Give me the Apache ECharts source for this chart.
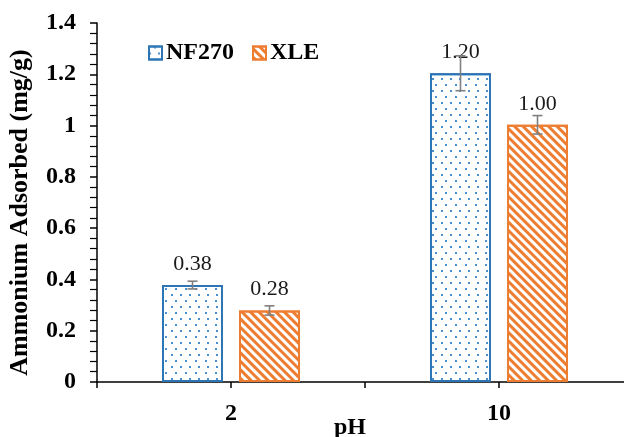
<!DOCTYPE html>
<html>
<head>
<meta charset="utf-8">
<script src="https://cdn.jsdelivr.net/npm/echarts@6/dist/echarts.min.js"></script>
<style>
html,body{margin:0;padding:0;background:#fff;}
#chart{width:624px;height:437px;}
</style>
</head>
<body>
<div id="chart"></div>
<script>
var categories = ['2', '10'];
var seriesNames = ['NF270', 'XLE'];
var nf270 = [0.378, 1.204];
var xle = [0.279, 1.003];
var nf270Err = [0.015, 0.068];
var xleErr = [0.018, 0.036];
var yTicks = {min: 0, max: 1.4, interval: 0.2};

var BLUE = '#2e75b6';
var ORANGE = '#ed7d31';
var SERIF = '"Liberation Serif", "Times New Roman", serif';
var BAR_W = 61;
var BAR_GAP = 16;

var chart = echarts.init(document.getElementById('chart'), null, {renderer: 'canvas'});

function errSeries(values, errs, sign) {
  return {
    type: 'custom',
    xAxisIndex: 0,
    yAxisIndex: 0,
    z: 10,
    silent: true,
    data: values.map(function (v, i) { return [i, v, errs[i]]; }),
    renderItem: function (params, api) {
      var i = api.value(0), v = api.value(1), e = api.value(2);
      var c = api.coord([i, v]);
      var x = c[0] + sign * (BAR_W + BAR_GAP) / 2;
      var hi = api.coord([i, v + e])[1];
      var lo = api.coord([i, v - e])[1];
      var cap = 5;
      var st = {stroke: '#7f7f7f', lineWidth: 1.6};
      return {
        type: 'group',
        children: [
          {type: 'line', shape: {x1: x, y1: hi, x2: x, y2: lo}, style: st},
          {type: 'line', shape: {x1: x - cap, y1: hi, x2: x + cap, y2: hi}, style: st},
          {type: 'line', shape: {x1: x - cap, y1: lo, x2: x + cap, y2: lo}, style: st}
        ]
      };
    }
  };
}

var labelStyle = {
  show: true,
  position: 'top',
  distance: 10,
  fontFamily: SERIF,
  fontSize: 22,
  color: '#1a1a1a',
  formatter: function (p) { return p.value.toFixed(2); }
};

var option = {
  backgroundColor: '#ffffff',
  animation: false,
  grid: {left: 97, right: -9, top: 23, bottom: 55, containLabel: false, outerBoundsMode: 'none'},
  legend: {
    left: 143,
    top: 36,
    itemWidth: 13,
    itemHeight: 13,
    itemGap: 18,
    icon: 'rect',
    textStyle: {fontFamily: SERIF, fontSize: 24, fontWeight: 'bold', color: '#000', padding: [0, 0, 0, -1]},
    data: seriesNames
  },
  xAxis: [
    {
      type: 'category',
      data: categories,
      position: 'bottom',
      axisLine: {show: true, lineStyle: {color: '#000', width: 1.5}},
      axisTick: {show: true, alignWithLabel: true, length: 6, lineStyle: {color: '#000', width: 1.5}},
      axisLabel: {margin: 20, fontFamily: SERIF, fontSize: 24, fontWeight: 'bold', color: '#000'},
      name: 'pH',
      nameLocation: 'middle',
      nameGap: 34,
      nameMoveOverlap: false,
      nameTextStyle: {fontFamily: SERIF, fontSize: 24, fontWeight: 'bold', color: '#000', padding: [0, 30, 0, 0]},
      splitLine: {show: false}
    },
    {
      type: 'category',
      data: categories,
      position: 'bottom',
      axisLine: {show: false},
      axisTick: {show: true, length: 6, lineStyle: {color: '#000', width: 1.5}},
      axisLabel: {show: false},
      splitLine: {show: false}
    }
  ],
  yAxis: {
    type: 'value',
    min: yTicks.min,
    max: yTicks.max,
    interval: yTicks.interval,
    axisLine: {show: true, lineStyle: {color: '#000', width: 1.5}},
    axisTick: {show: true, length: 7, lineStyle: {color: '#000', width: 1.5}},
    minorTick: {show: true, splitNumber: 5, length: 7, lineStyle: {color: '#000', width: 1.2}},
    splitLine: {show: false},
    axisLabel: {margin: 21, fontFamily: SERIF, fontSize: 24, fontWeight: 'bold', color: '#000'},
    name: 'Ammonium Adsorbed (mg/g)',
    nameLocation: 'middle',
    nameGap: 64,
    nameMoveOverlap: false,
    nameTextStyle: {fontFamily: SERIF, fontSize: 26, fontWeight: 'bold', color: '#000', padding: [0, 20, 0, 0]}
  },
  series: [
    {
      name: seriesNames[0],
      type: 'bar',
      xAxisIndex: 0,
      data: nf270,
      barWidth: BAR_W,
      barGap: (BAR_GAP / BAR_W * 100) + '%',
      itemStyle: {
        color: '#ffffff',
        borderColor: BLUE,
        borderWidth: 2,
        decal: {
          symbol: 'rect',
          symbolSize: 1,
          color: '#4a8fcf',
          dashArrayX: [[2, 7], [0, 4.5, 2, 2.5]],
          dashArrayY: [2, 3.5],
          rotation: 0
        }
      },
      label: labelStyle
    },
    {
      name: seriesNames[1],
      type: 'bar',
      xAxisIndex: 0,
      data: xle,
      barWidth: BAR_W,
      itemStyle: {
        color: '#ffffff',
        borderColor: ORANGE,
        borderWidth: 2,
        decal: {
          symbol: 'rect',
          symbolSize: 1,
          color: ORANGE,
          dashArrayX: [1, 0],
          dashArrayY: [2.4, 2.2],
          rotation: Math.PI / 4
        }
      },
      label: labelStyle
    },
    errSeries(nf270, nf270Err, -1),
    errSeries(xle, xleErr, 1)
  ]
};
chart.setOption(option);
</script>
</body>
</html>
